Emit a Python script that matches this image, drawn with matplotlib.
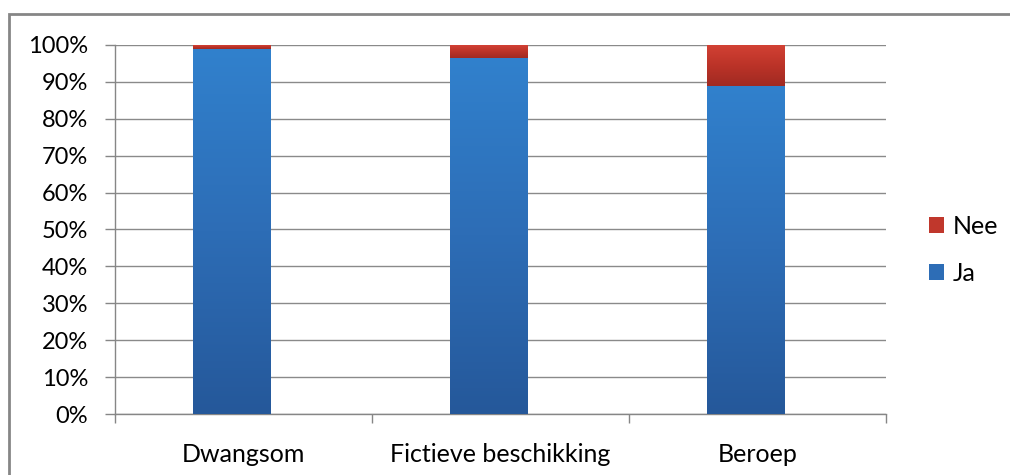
import matplotlib
matplotlib.use("Agg")
import matplotlib.pyplot as plt
import numpy as np
from matplotlib.patches import Rectangle, Patch
from matplotlib.colors import LinearSegmentedColormap

categories = ["Dwangsom", "Fictieve beschikking", "Beroep"]
ja = [99.0, 96.5, 89.0]
nee = [1.0, 3.5, 11.0]
y_ticks = [0, 10, 20, 30, 40, 50, 60, 70, 80, 90, 100]

plt.rcParams['font.family'] = ['Lato', 'DejaVu Sans']

fig = plt.figure(figsize=(10.1, 4.75), dpi=100)
ax = fig.add_axes([0.1139, 0.1284, 0.877 - 0.1139, 0.9053 - 0.1284])

blue_cmap = LinearSegmentedColormap.from_list("b", ["#25589a", "#2d6db6", "#3181cd"])
red_cmap = LinearSegmentedColormap.from_list("r", ["#a02a22", "#bb3328", "#d24134"])

width = 0.30
offset = -0.047
x = np.arange(len(categories))
xb = x + offset
grad = np.linspace(0, 1, 256).reshape(-1, 1)

for i in range(len(categories)):
    sh = Rectangle((xb[i] - width / 2 + 0.006, -0.3), width, ja[i] + nee[i],
                   facecolor="#d0d0d0", edgecolor="none", alpha=0.5, zorder=2)
    ax.add_patch(sh)
    b1 = ax.bar(xb[i], ja[i], width, color="none", edgecolor="none", zorder=3)
    b2 = ax.bar(xb[i], nee[i], width, bottom=ja[i], color="none", edgecolor="none", zorder=3)
    im1 = ax.imshow(grad, cmap=blue_cmap, aspect="auto", origin="lower",
                    extent=[xb[i] - width / 2, xb[i] + width / 2, 0, ja[i]], zorder=3)
    im1.set_clip_path(b1[0])
    im2 = ax.imshow(grad, cmap=red_cmap, aspect="auto", origin="lower",
                    extent=[xb[i] - width / 2, xb[i] + width / 2, ja[i], ja[i] + nee[i]], zorder=3)
    im2.set_clip_path(b2[0])

ax.set_xlim(-0.5, len(categories) - 0.5)
ax.set_ylim(0, 100)
ax.set_yticks(y_ticks)
ax.set_yticklabels([f"{v}%" for v in y_ticks], fontsize=17)
ax.set_xticks(x)
ax.set_xticklabels(categories, fontsize=18)
ax.set_xticks(np.arange(-0.5, len(categories), 1.0), minor=True)
ax.tick_params(axis="x", which="major", length=0, pad=21)
ax.tick_params(axis="x", which="minor", length=6.5, color="#868686", width=1.0)
ax.tick_params(axis="y", length=7.2, color="#868686", width=1.0, pad=12)
ax.yaxis.grid(True, color="#8a8a8a", linewidth=1.0, zorder=1)
ax.set_axisbelow(True)
for s in ["top", "right"]:
    ax.spines[s].set_visible(False)
for s in ["left", "bottom"]:
    ax.spines[s].set_color("#868686")
    ax.spines[s].set_linewidth(1.0)

handles = [Patch(facecolor="#c0372c", edgecolor="none", label="Nee"),
           Patch(facecolor="#2d6db6", edgecolor="none", label="Ja")]
fig.legend(handles=handles, loc="center left", bbox_to_anchor=(0.92, 0.474),
           frameon=False, fontsize=18, handlelength=0.6, handleheight=0.6,
           handletextpad=0.35, labelspacing=0.95, borderpad=0, borderaxespad=0)

border = Rectangle((9 / 1010, -0.1), 1.2, (475 - 14) / 475 + 0.1, transform=fig.transFigure,
                   facecolor="none", edgecolor="#868686", linewidth=2, zorder=10)
fig.patches.append(border)

fig.savefig("out.png", dpi=100)
